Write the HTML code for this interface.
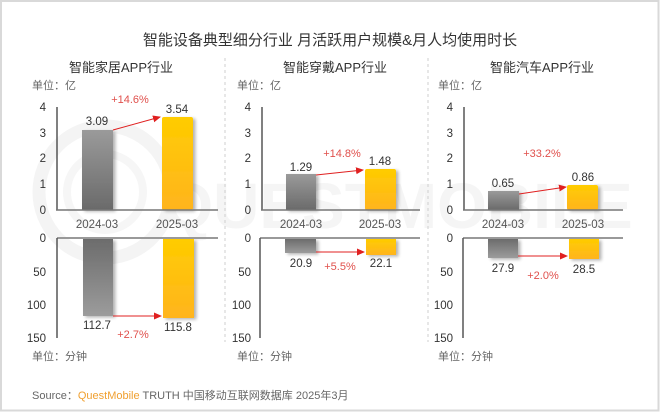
<!DOCTYPE html>
<html><head><meta charset="utf-8"><style>
html,body{margin:0;padding:0;background:#fff;}
svg{display:block;}
text{font-family:"Liberation Sans","Noto Sans CJK SC",sans-serif;}
.cjk{font-family:"Liberation Sans","Noto Sans CJK SC",sans-serif;}
.tk{font-size:11.5px;fill:#333;text-anchor:end;}
.vl{font-size:11.5px;fill:#333;text-anchor:middle;}
.xl{font-size:11.5px;fill:#555;text-anchor:middle;}
.pc{font-size:11px;fill:#e0504c;text-anchor:middle;}
.un{font-size:11px;fill:#666;}
.st{font-size:13px;fill:#333;text-anchor:middle;}
</style></head><body>
<svg width="660" height="412" viewBox="0 0 660 412" xmlns="http://www.w3.org/2000/svg">
<defs>
<linearGradient id="gU" x1="0" y1="0" x2="0" y2="1"><stop offset="0" stop-color="#9a9a9a"/><stop offset="1" stop-color="#6a6a6a"/></linearGradient>
<linearGradient id="yU" x1="0" y1="0" x2="0" y2="1"><stop offset="0" stop-color="#ffcc00"/><stop offset="1" stop-color="#ffb41e"/></linearGradient>
<linearGradient id="gD" x1="0" y1="0" x2="0" y2="1"><stop offset="0" stop-color="#6c6c6c"/><stop offset="1" stop-color="#9c9c9c"/></linearGradient>
<linearGradient id="yD" x1="0" y1="0" x2="0" y2="1"><stop offset="0" stop-color="#ffcc00"/><stop offset="1" stop-color="#ffb41e"/></linearGradient>
<filter id="sh" x="-20%" y="-20%" width="150%" height="150%"><feGaussianBlur in="SourceAlpha" stdDeviation="1.5"/><feOffset dx="2.5" dy="1.5"/><feComponentTransfer><feFuncA type="linear" slope="0.3"/></feComponentTransfer><feMerge><feMergeNode/><feMergeNode in="SourceGraphic"/></feMerge></filter>
<marker id="ah" markerWidth="8" markerHeight="8" refX="7" refY="4" orient="auto" markerUnits="userSpaceOnUse"><path d="M0,0.5 L8,4 L0,7.5 z" fill="#e02020"/></marker>
</defs>
<rect x="1" y="1" width="657.5" height="409.5" fill="#fff" stroke="#d9d9d9" stroke-width="2"/>

<!-- watermark -->
<circle cx="105" cy="192" r="66" fill="none" stroke="#f4f4f4" stroke-width="13"/>
<circle cx="105" cy="192" r="38" fill="none" stroke="#f6f6f6" stroke-width="8"/>
<text x="398" y="228" font-size="64" font-weight="bold" fill="#f5f5f5" text-anchor="middle">QUESTMOBILE</text>

<!-- title -->
<text x="330" y="45" class="cjk" font-size="15" fill="#333" text-anchor="middle">智能设备典型细分行业 月活跃用户规模&amp;月人均使用时长</text>

<!-- separators -->
<line x1="225" y1="58" x2="225" y2="342" stroke="#cfcfcf" stroke-width="1" stroke-dasharray="3,3"/>
<line x1="428" y1="58" x2="428" y2="342" stroke="#cfcfcf" stroke-width="1" stroke-dasharray="3,3"/>

<!-- ===== Panel L ===== -->
<text x="121" y="72" class="st">智能家居APP行业</text>
<text x="32" y="89" class="un">单位：亿</text>
<text x="46" y="111" class="tk">4</text><text x="46" y="137" class="tk">3</text><text x="46" y="162" class="tk">2</text><text x="46" y="188" class="tk">1</text><text x="46" y="214" class="tk">0</text>
<rect x="82" y="130" width="31" height="80" fill="url(#gU)" filter="url(#sh)"/>
<rect x="162" y="117" width="31" height="93" rx="2" fill="url(#yU)" filter="url(#sh)"/>
<line x1="57" y1="107" x2="57" y2="210.5" stroke="#555" stroke-width="1.5"/>
<line x1="56" y1="210" x2="218" y2="210" stroke="#777" stroke-width="1.5"/>
<text x="97" y="125" class="vl">3.09</text>
<text x="177" y="113" class="vl">3.54</text>
<line x1="113" y1="130" x2="160" y2="117" stroke="#e02020" stroke-width="1" marker-end="url(#ah)"/>
<text x="130" y="103" class="pc">+14.6%</text>
<text x="97" y="228" class="xl">2024-03</text>
<text x="177" y="228" class="xl">2025-03</text>
<rect x="83" y="239" width="30" height="77" fill="url(#gD)" filter="url(#sh)"/>
<rect x="163" y="239" width="31" height="79" fill="url(#yD)" filter="url(#sh)"/>
<line x1="57" y1="238" x2="218" y2="238" stroke="#999" stroke-width="2"/>
<line x1="57" y1="238" x2="57" y2="338" stroke="#555" stroke-width="1.5"/>
<text x="46" y="242" class="tk">0</text><text x="46" y="276" class="tk">50</text><text x="46" y="309" class="tk">100</text><text x="46" y="342" class="tk">150</text>
<text x="97" y="329" class="vl">112.7</text>
<text x="178" y="331" class="vl">115.8</text>
<line x1="113" y1="316" x2="161" y2="316" stroke="#e02020" stroke-width="1" marker-end="url(#ah)"/>
<text x="133" y="338" class="pc">+2.7%</text>
<text x="32" y="360" class="un">单位：分钟</text>

<!-- ===== Panel M ===== -->
<text x="335" y="72" class="st">智能穿戴APP行业</text>
<text x="237" y="89" class="un">单位：亿</text>
<text x="251" y="111" class="tk">4</text><text x="251" y="137" class="tk">3</text><text x="251" y="162" class="tk">2</text><text x="251" y="188" class="tk">1</text><text x="251" y="214" class="tk">0</text>
<rect x="286" y="174" width="30" height="36" fill="url(#gU)" filter="url(#sh)"/>
<rect x="365" y="169" width="31" height="41" rx="2" fill="url(#yU)" filter="url(#sh)"/>
<line x1="262" y1="107" x2="262" y2="210.5" stroke="#555" stroke-width="1.5"/>
<line x1="261" y1="210" x2="420" y2="210" stroke="#777" stroke-width="1.5"/>
<text x="301" y="171" class="vl">1.29</text>
<text x="380" y="165" class="vl">1.48</text>
<line x1="316" y1="175" x2="363" y2="170" stroke="#e02020" stroke-width="1" marker-end="url(#ah)"/>
<text x="342" y="157" class="pc">+14.8%</text>
<text x="301" y="228" class="xl">2024-03</text>
<text x="380" y="228" class="xl">2025-03</text>
<rect x="285" y="239" width="31" height="14" fill="url(#gD)" filter="url(#sh)"/>
<rect x="366" y="239" width="30" height="16" fill="url(#yD)" filter="url(#sh)"/>
<line x1="260" y1="238" x2="420" y2="238" stroke="#999" stroke-width="2"/>
<line x1="260" y1="238" x2="260" y2="338" stroke="#555" stroke-width="1.5"/>
<text x="251" y="242" class="tk">0</text><text x="251" y="276" class="tk">50</text><text x="251" y="309" class="tk">100</text><text x="251" y="342" class="tk">150</text>
<text x="301" y="267" class="vl">20.9</text>
<text x="381" y="267" class="vl">22.1</text>
<line x1="316" y1="252" x2="364" y2="252" stroke="#e02020" stroke-width="1" marker-end="url(#ah)"/>
<text x="340" y="270" class="pc">+5.5%</text>
<text x="237" y="360" class="un">单位：分钟</text>

<!-- ===== Panel R ===== -->
<text x="542" y="72" class="st">智能汽车APP行业</text>
<text x="438" y="89" class="un">单位：亿</text>
<text x="453" y="111" class="tk">4</text><text x="453" y="137" class="tk">3</text><text x="453" y="162" class="tk">2</text><text x="453" y="188" class="tk">1</text><text x="453" y="214" class="tk">0</text>
<rect x="488" y="191" width="31" height="19" fill="url(#gU)" filter="url(#sh)"/>
<rect x="567" y="185" width="31" height="25" rx="2" fill="url(#yU)" filter="url(#sh)"/>
<line x1="464" y1="107" x2="464" y2="210.5" stroke="#555" stroke-width="1.5"/>
<line x1="463" y1="210" x2="623" y2="210" stroke="#777" stroke-width="1.5"/>
<text x="503" y="187" class="vl">0.65</text>
<text x="583" y="181" class="vl">0.86</text>
<line x1="519" y1="194" x2="566" y2="187" stroke="#e02020" stroke-width="1" marker-end="url(#ah)"/>
<text x="542" y="157" class="pc">+33.2%</text>
<text x="503" y="228" class="xl">2024-03</text>
<text x="583" y="228" class="xl">2025-03</text>
<rect x="488" y="239" width="30" height="19" fill="url(#gD)" filter="url(#sh)"/>
<rect x="569" y="239" width="30" height="20" fill="url(#yD)" filter="url(#sh)"/>
<line x1="463" y1="238" x2="623" y2="238" stroke="#999" stroke-width="2"/>
<line x1="463" y1="238" x2="463" y2="338" stroke="#555" stroke-width="1.5"/>
<text x="453" y="242" class="tk">0</text><text x="453" y="276" class="tk">50</text><text x="453" y="309" class="tk">100</text><text x="453" y="342" class="tk">150</text>
<text x="503" y="272" class="vl">27.9</text>
<text x="584" y="273" class="vl">28.5</text>
<line x1="518" y1="256" x2="567" y2="256" stroke="#e02020" stroke-width="1" marker-end="url(#ah)"/>
<text x="543" y="279" class="pc">+2.0%</text>
<text x="438" y="360" class="un">单位：分钟</text>

<!-- source -->
<text x="32" y="399" font-size="11" fill="#666">Source：<tspan fill="#f0a030">QuestMobile</tspan> TRUTH 中国移动互联网数据库 2025年3月</text>
</svg>
</body></html>
